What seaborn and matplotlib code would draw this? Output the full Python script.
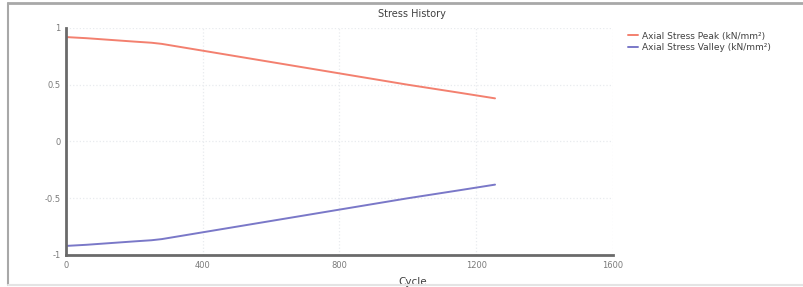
import pandas as pd
import seaborn as sns
import matplotlib.pyplot as plt

# values
CYCLE = [0, 60, 130, 200, 250, 265, 280, 400, 600, 800, 1000, 1150, 1255]
PEAK = [0.92, 0.91, 0.895, 0.88, 0.87, 0.865, 0.86, 0.80, 0.70, 0.60, 0.50, 0.43, 0.38]
VALLEY = [-0.92, -0.91, -0.895, -0.88, -0.87, -0.865, -0.86, -0.80, -0.70, -0.60, -0.50, -0.43, -0.38]
SERIES = ['Axial Stress Peak (kN/mm\u00b2)', 'Axial Stress Valley (kN/mm\u00b2)']
COLORS = ['#f3806f', '#7a78c8']

DATA = pd.DataFrame({'Cycle': CYCLE * 2,
                     'Stress': PEAK + VALLEY,
                     'Series': [SERIES[0]] * len(CYCLE) + [SERIES[1]] * len(CYCLE)})

sns.set_theme(style='white')
plt.rcParams['font.family'] = ['DejaVu Sans']

fig = plt.figure(figsize=(8.04, 2.87), dpi=100)
# outer frame of the panel
fig.add_artist(plt.Line2D([0.0105, 1.0], [0.99, 0.99], color='#a8a8a8', lw=2, transform=fig.transFigure))
fig.add_artist(plt.Line2D([0.0105, 0.0105], [0.007, 0.99], color='#a8a8a8', lw=1.5, transform=fig.transFigure))
fig.add_artist(plt.Line2D([0.0105, 1.0], [0.007, 0.007], color='#e4e4e4', lw=1.5, transform=fig.transFigure))

AX = fig.add_axes([0.0821, 0.1115, 0.6803, 0.791])
sns.lineplot(data=DATA, x='Cycle', y='Stress', hue='Series', palette=COLORS,
             linewidth=1.4, ax=AX, legend=True)

AX.set_xlim(0, 1600)
AX.set_ylim(-1, 1)
AX.set_xticks([0, 400, 800, 1200, 1600])
AX.set_yticks([-1, -0.5, 0, 0.5, 1])
AX.set_yticklabels(['-1', '-0.5', '0', '0.5', '1'])
AX.grid(True, color='#e8ebef', linestyle=':', linewidth=0.9)
for s in ['top', 'right']:
    AX.spines[s].set_visible(False)
for s in ['left', 'bottom']:
    AX.spines[s].set_color('#6a6a6a')
    AX.spines[s].set_linewidth(2)
AX.tick_params(axis='both', labelsize=6, colors='#7a7a7a', length=0, pad=4)
AX.set_xlabel('Cycle', fontsize=7.5, color='#404040')
AX.xaxis.set_label_coords(0.633, -0.095)
AX.set_ylabel('')
AX.set_title('Stress History', fontsize=7, color='#404040', x=0.633, y=1.01)

AX.legend(loc='upper left', bbox_to_anchor=(1.02, 1.0), frameon=False,
          fontsize=6.5, handlelength=1.2, handletextpad=0.4, labelspacing=0.25,
          borderaxespad=0)
for t in AX.get_legend().get_texts():
    t.set_color('#404040')

plt.savefig('out.png', dpi=100)
